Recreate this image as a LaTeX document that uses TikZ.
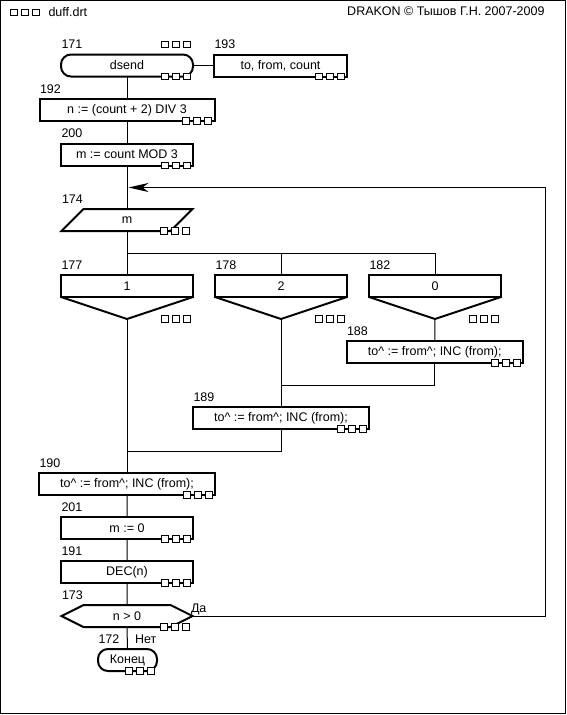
\documentclass[tikz,border=0pt]{standalone}
\usepackage{fontspec}
\setmainfont{Liberation Sans}
\usetikzlibrary{arrows.meta}

\begin{document}
\begin{tikzpicture}[x=1pt,y=-1pt,line width=1pt,
    font=\fontsize{12.5}{14}\selectfont,
    icon/.style={line width=2pt,minimum height=22pt,inner sep=0pt,outer sep=0pt},
    action/.style={icon,draw},
    term/.style={icon,draw,rounded corners=10pt},
    shell/.style={icon},
    num/.style={anchor=base west,inner sep=0pt},
    outline/.style={line width=2pt},
    marks/.pic={\foreach \k in {0,1,2}
        \draw[line width=1pt,fill=white] (-\k*11-9.7,-3.3) rectangle ++(6.7,6.7);}]
    \useasboundingbox (0,0) rectangle (567,715);
    \draw (0.5,0.5) rectangle (565.5,713.5);
    \pic at (42,12.5) {marks};
    \node[anchor=base west,inner sep=0pt] (file) at (48,16) {duff.drt};
    \node[anchor=base east,inner sep=0pt] (copy) at (545,15.5) {DRAKON © Тышов Г.Н. 2007-2009};
    \node[term,minimum width=132pt] (n171) at (127,65.5) {dsend};
    \node[action,minimum width=133pt] (n193) at (280.5,65.5) {to, from, count};
    \node[action,minimum width=175pt] (n192) at (127,110) {n := (count + 2) DIV 3};
    \node[action,minimum width=132pt] (n200) at (127,154.5) {m := count MOD 3};
    \node[shell,minimum width=131pt] (n174) at (127,220) {m};
    \draw[outline] (n174.south west) -- ([xshift=22pt]n174.north west) -- (n174.north east)
        -- ([xshift=-22pt]n174.south east) -- cycle;
    \foreach \n/\x/\t in {177/127/1,178/281/2,182/435/0}{
        \node[action,minimum width=132pt] (n\n) at (\x,286) {\t};
        \coordinate (t\n) at (\x,319);
        \draw[outline] (n\n.south west) -- (t\n) -- (n\n.south east);
        \node[num] (l\n) at ([yshift=6pt]n\n.north west) {\n};
        \pic at (n\n.south east |- t\n) {marks};
    }
    \node[action,minimum width=176.5pt] (n188) at (434.75,352) {to\^{} := from\^{}; INC (from);};
    \node[action,minimum width=176pt] (n189) at (281,418) {to\^{} := from\^{}; INC (from);};
    \node[action,minimum width=176pt] (n190) at (127,484) {to\^{} := from\^{}; INC (from);};
    \node[action,minimum width=132pt] (n201) at (127,528) {m := 0};
    \node[action,minimum width=132pt] (n191) at (127,572) {DEC(n)};
    \node[shell,minimum width=131pt] (n173) at (127,616) {n > 0};
    \draw[outline] (n173.west) -- ([xshift=22pt]n173.north west) -- ([xshift=-22pt]n173.north east)
        -- (n173.east) -- ([xshift=-22pt]n173.south east) -- ([xshift=22pt]n173.south west) -- cycle;
    \node[term,minimum width=59pt] (n172) at (127.5,660) {Конец};
    \coordinate (b) at (127,253);
    \coordinate (j1) at (281,385);
    \coordinate (j2) at (127,451);
    \coordinate (loop) at (128.5,187.5);
    \coordinate (back) at (545,187.5);
    \draw (n171.east) -- (n193.west);
    \draw (n171) -- (n192) -- (n200) -- (n174) -- (n177);
    \draw (b) -| (n182.north);
    \draw (n178.north) -- (n178.north |- b);
    \draw (t177) -- (n190.north);
    \draw (t178) -- (n189.north);
    \draw (t182) -- (n188.north);
    \draw (n188.south) |- (j1);
    \draw (n189.south) |- (j2);
    \draw (n190) -- (n201) -- (n191) -- (n173) -- (n172);
    \draw[-{Stealth[length=20pt,width=9pt,inset=6pt]}] (n173.east) -| (back) -- (loop);
    \foreach \n in {171,193,192,200,174,188,189,190,201,191,173,172}{
        \node[num] (l\n) at ([yshift=6pt]n\n.north west) {\n};
        \pic at (n\n.south east) {marks};
    }
    \pic at ([yshift=10pt]n171.north east) {marks};
    \node[num] (yes) at ([xshift=-2pt,yshift=4pt]n173.east) {Да};
    \node[num] (no) at ([xshift=7pt,yshift=6pt]n172.north) {Нет};
\end{tikzpicture}
\end{document}
